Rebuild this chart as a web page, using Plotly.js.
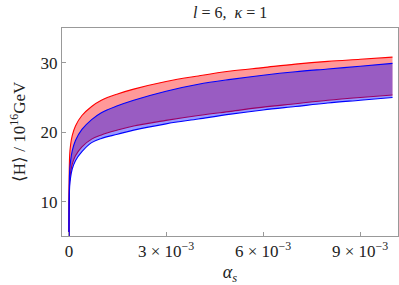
<!DOCTYPE html>
<html><head><meta charset="utf-8">
<script src="https://cdn.plot.ly/plotly-3.0.1.min.js"></script>
<style>html,body{margin:0;padding:0;background:#fff}#c{width:399px;height:285px}</style>
</head><body><div id="c"></div>
<script>
const alpha = [0, 0.00002, 0.00005, 0.0001, 0.0002, 0.0004, 0.0007, 0.001, 0.0015, 0.002, 0.003, 0.004, 0.005, 0.006, 0.007, 0.008, 0.009, 0.01];
const redUpper  = [0, 16.6, 18.2, 19.5, 20.9, 22.4, 23.7, 24.6, 25.5, 26.2, 27.3, 28.1, 28.8, 29.3, 29.8, 30.2, 30.5, 30.8];
const redLower  = [0, 12.9, 14.2, 15.4, 16.6, 17.9, 19.0, 19.6, 20.3, 20.9, 21.7, 22.4, 23.0, 23.6, 24.1, 24.6, 25.0, 25.35];
const blueUpper = [0, 14.3, 15.9, 17.3, 18.8, 20.4, 21.8, 22.8, 23.8, 24.6, 25.9, 26.9, 27.6, 28.2, 28.7, 29.1, 29.5, 29.9];
const blueLower = [0, 12.1, 13.5, 14.7, 15.9, 17.2, 18.5, 19.1, 19.7, 20.3, 21.2, 21.9, 22.6, 23.2, 23.7, 24.2, 24.6, 25.0];
const xTickVals = [0, 0.003, 0.006, 0.009];
const xTickText = ['0', '3 × 10<sup>−3</sup>', '6 × 10<sup>−3</sup>', '9 × 10<sup>−3</sup>'];
const yTickVals = [10, 20, 30];

const red = '#ff0000', blue = '#0000ff';
const traces = [
  {x: alpha, y: redLower, mode: 'lines', line: {color: red, width: 1.1, shape: 'spline'}, hoverinfo: 'skip'},
  {x: alpha, y: redUpper, mode: 'lines', line: {color: red, width: 1.1, shape: 'spline'}, fill: 'tonexty', fillcolor: 'rgba(255,0,0,0.4)', hoverinfo: 'skip'},
  {x: alpha, y: blueLower, mode: 'lines', line: {color: blue, width: 1.1, shape: 'spline'}, hoverinfo: 'skip'},
  {x: alpha, y: blueUpper, mode: 'lines', line: {color: blue, width: 1.1, shape: 'spline'}, fill: 'tonexty', fillcolor: 'rgba(0,0,255,0.4)', hoverinfo: 'skip'}
];
const ff = 'Liberation Serif';
const layout = {
  width: 399, height: 285,
  margin: {l: 62, r: 1, t: 28, b: 49},
  paper_bgcolor: '#fff', plot_bgcolor: '#fff',
  showlegend: false,
  font: {family: ff, size: 15, color: '#222'},
  title: {text: '<i>l</i> = 6,  <i>κ</i> = 1', x: 0.577, xanchor: 'center', y: 0.955, yanchor: 'middle', font: {family: ff, size: 16, color: '#222'}},
  xaxis: {
    range: [-0.000216, 0.01017], tickvals: xTickVals, ticktext: xTickText,
    ticks: 'inside', ticklen: 4, tickcolor: '#999', showgrid: false, zeroline: false,
    showline: true, linecolor: '#999', linewidth: 1, mirror: true,
    tickfont: {family: ff, size: 17, color: '#222'},
    title: {text: '<i>α<sub>s</sub></i>', font: {family: ff, size: 18, color: '#222'}, standoff: 8}
  },
  yaxis: {
    range: [5.05, 35], tickvals: yTickVals,
    ticks: 'inside', ticklen: 4, tickcolor: '#999', showgrid: false, zeroline: false,
    showline: true, linecolor: '#999', linewidth: 1, mirror: true,
    tickfont: {family: ff, size: 17, color: '#222'},
    title: {text: '⟨H⟩ / 10<sup>16</sup>GeV', font: {family: ff, size: 17, color: '#222'}, standoff: 10}
  }
};
Plotly.newPlot('c', traces, layout, {staticPlot: true});
</script></body></html>
